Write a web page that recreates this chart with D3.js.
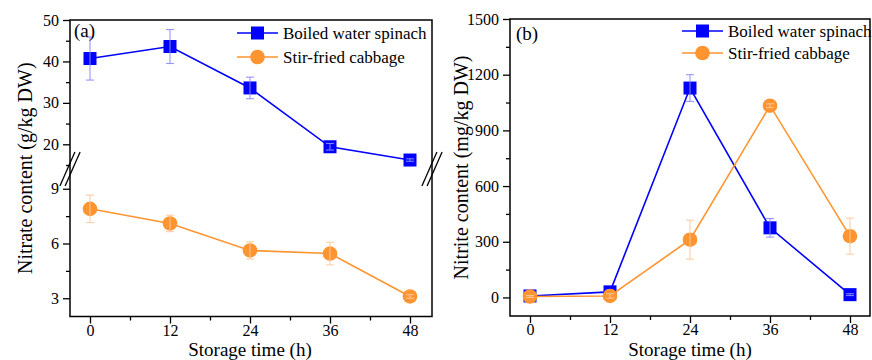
<!DOCTYPE html>
<html>
<head>
<meta charset="utf-8">
<script src="https://cdn.jsdelivr.net/npm/d3@7"></script>
<style>
  body { margin: 0; background: #fff; }
  svg, svg text { font-family: "Liberation Serif", "Times New Roman", serif; }
  svg { display: block; }
</style>
</head>
<body>
<div id="chart"></div>
<script>
// Data
const hours = [0, 12, 24, 36, 48];
const seriesNames = ["Boiled water spinach", "Stir-fried cabbage"];

const nitrateSpinach = [40.7, 43.6, 33.6, 19.4, 16.2];
const nitrateSpinachErr = [5.2, 4.1, 2.6, 0.8, 0.3];
const nitrateCabbage = [7.9, 7.1, 5.62, 5.45, 3.1];
const nitrateCabbageErr = [0.75, 0.45, 0.47, 0.62, 0.1];

const nitriteSpinach = [8, 30, 1128, 375, 15];
const nitriteSpinachErr = [18, 10, 72, 50, 5];
const nitriteCabbage = [5, 8, 311, 1033, 330];
const nitriteCabbageErr = [5, 12, 105, 10, 97];

const xTicks = [0, 12, 24, 36, 48];
const nitrateUpperTicks = [20, 30, 40, 50];
const nitrateLowerTicks = [3, 6, 9];
const nitriteTicks = [0, 300, 600, 900, 1200, 1500];

const width = 872;
const height = 360;
const blue = "#0000ff";
const orange = "#ff9430";
const blueErr = "#8c8cff";
const orangeErr = "#ffc89a";
const serif = "'Liberation Serif', 'Times New Roman', serif";

const svg = d3.select("#chart").append("svg")
  .attr("width", width)
  .attr("height", height);

svg.append("rect").attr("width", width).attr("height", height).attr("fill", "#fff");

function series(xs, ys, es) {
  return xs.map((x, i) => ({ x, y: ys[i], e: es[i] }));
}

function styleAxis(g, size) {
  g.attr("font-family", serif).attr("font-size", size);
  g.select(".domain").remove();
  g.selectAll(".tick line").attr("stroke", "#000").attr("stroke-width", 1.3);
  g.selectAll(".tick text").attr("fill", "#000");
}

function drawXAxis(g, x, bottom) {
  g.append("g")
    .attr("transform", `translate(0,${bottom})`)
    .call(d3.axisBottom(x).tickValues(xTicks).tickSize(7).tickPadding(1).tickFormat(d3.format("d")))
    .call(a => styleAxis(a, 16));
  g.append("g")
    .attr("transform", `translate(0,${bottom})`)
    .call(d3.axisBottom(x).tickValues([6, 18, 30, 42]).tickSize(4).tickFormat(""))
    .call(a => styleAxis(a, 16));
}

function drawYAxis(g, y, left, ticks, minor) {
  g.append("g")
    .attr("transform", `translate(${left},0)`)
    .call(d3.axisLeft(y).tickValues(ticks).tickSize(7).tickPadding(4).tickFormat(d3.format("d")))
    .call(a => styleAxis(a, 16));
  g.append("g")
    .attr("transform", `translate(${left},0)`)
    .call(d3.axisLeft(y).tickValues(minor).tickSize(4).tickFormat(""))
    .call(a => styleAxis(a, 16));
}

function drawSeries(g, x, y, data, color, errColor, shape) {
  const line = d3.line().x(d => x(d.x)).y(d => y(d.y));
  g.append("path")
    .datum(data)
    .attr("fill", "none")
    .attr("stroke", color)
    .attr("stroke-width", 1.6)
    .attr("d", line);

  if (shape === "square") {
    g.selectAll(null).data(data).join("rect")
      .attr("x", d => x(d.x) - 6.5)
      .attr("y", d => y(d.y) - 6.5)
      .attr("width", 13)
      .attr("height", 13)
      .attr("fill", color);
  } else {
    g.selectAll(null).data(data).join("circle")
      .attr("cx", d => x(d.x))
      .attr("cy", d => y(d.y))
      .attr("r", 7.3)
      .attr("fill", color);
  }

  const err = g.selectAll(null).data(data).join("g")
    .attr("stroke", errColor)
    .attr("stroke-width", 1.1)
    .attr("stroke-opacity", 0.9);
  err.append("line")
    .attr("x1", d => x(d.x)).attr("x2", d => x(d.x))
    .attr("y1", d => y(d.y + d.e)).attr("y2", d => y(d.y - d.e));
  err.append("line")
    .attr("x1", d => x(d.x) - 4).attr("x2", d => x(d.x) + 4)
    .attr("y1", d => y(d.y + d.e)).attr("y2", d => y(d.y + d.e));
  err.append("line")
    .attr("x1", d => x(d.x) - 4).attr("x2", d => x(d.x) + 4)
    .attr("y1", d => y(d.y - d.e)).attr("y2", d => y(d.y - d.e));
}

function drawLegend(g, lx, ly, gap) {
  const items = [
    { name: seriesNames[0], color: blue, shape: "square" },
    { name: seriesNames[1], color: orange, shape: "circle" }
  ];
  items.forEach((it, i) => {
    const yy = ly + i * gap;
    g.append("line")
      .attr("x1", lx).attr("x2", lx + 41)
      .attr("y1", yy).attr("y2", yy)
      .attr("stroke", it.color).attr("stroke-width", 1.6);
    if (it.shape === "square") {
      g.append("rect").attr("x", lx + 14).attr("y", yy - 6.5)
        .attr("width", 13).attr("height", 13).attr("fill", it.color);
    } else {
      g.append("circle").attr("cx", lx + 20.5).attr("cy", yy).attr("r", 7.3).attr("fill", it.color);
    }
    g.append("text")
      .attr("x", lx + 46).attr("y", yy + 5.5)
      .style("font-size", "17px")
      .attr("fill", "#000")
      .text(it.name);
  });
}

function breakMark(g, cx, cy) {
  [-2.6, 2.6].forEach(off => {
    g.append("line")
      .attr("x1", cx + off - 7.5).attr("y1", cy + 17)
      .attr("x2", cx + off + 7.5).attr("y2", cy - 17)
      .attr("stroke", "#000").attr("stroke-width", 1.3);
  });
}

// ---------- Panel (a): nitrate ----------
const a = { left: 70, right: 432, top: 20, bottom: 316.5 };
const gA = svg.append("g");

const xA = d3.scaleLinear().domain([-3, 51.3]).range([a.left, a.right]);
const yUpper = d3.scaleLinear().domain([15, 50]).range([165, a.top]);
const yLower = d3.scaleLinear().domain([2, 10]).range([a.bottom, 170.5]);

drawXAxis(gA, xA, a.bottom);
drawYAxis(gA, yUpper, a.left, nitrateUpperTicks, [15, 25, 35, 45]);
drawYAxis(gA, yLower, a.left, nitrateLowerTicks, [4.5, 7.5]);

gA.append("rect")
  .attr("x", a.left).attr("y", a.top)
  .attr("width", a.right - a.left).attr("height", a.bottom - a.top)
  .attr("fill", "none").attr("stroke", "#000").attr("stroke-width", 1.5);

breakMark(gA, a.left, 169);
breakMark(gA, a.right, 169);

drawSeries(gA, xA, yUpper, series(hours, nitrateSpinach, nitrateSpinachErr), blue, blueErr, "square");
drawSeries(gA, xA, yLower, series(hours, nitrateCabbage, nitrateCabbageErr), orange, orangeErr, "circle");

gA.append("text").attr("x", 74).attr("y", 37).style("font-size", "19px").text("(a)");
drawLegend(gA, 237, 33, 24);

gA.append("text")
  .attr("transform", `translate(32,${(a.top + a.bottom) / 2}) rotate(-90)`)
  .attr("text-anchor", "middle")
  .style("font-size", "20px")
  .text("Nitrate content (g/kg DW)");

gA.append("text")
  .attr("x", xA(24)).attr("y", 355.5)
  .attr("text-anchor", "middle")
  .style("font-size", "19px")
  .text("Storage time (h)");

// ---------- Panel (b): nitrite ----------
const b = { left: 510, right: 870, top: 19, bottom: 316 };
const gB = svg.append("g");

const xB = d3.scaleLinear().domain([-3, 51]).range([b.left, b.right]);
const yB = d3.scaleLinear().domain([-100, 1500]).range([b.bottom, b.top]);

drawXAxis(gB, xB, b.bottom);
drawYAxis(gB, yB, b.left, nitriteTicks, [150, 450, 750, 1050, 1350]);

gB.append("rect")
  .attr("x", b.left).attr("y", b.top)
  .attr("width", b.right - b.left).attr("height", b.bottom - b.top)
  .attr("fill", "none").attr("stroke", "#000").attr("stroke-width", 1.5);

drawSeries(gB, xB, yB, series(hours, nitriteSpinach, nitriteSpinachErr), blue, blueErr, "square");
drawSeries(gB, xB, yB, series(hours, nitriteCabbage, nitriteCabbageErr), orange, orangeErr, "circle");

gB.append("text").attr("x", 516).attr("y", 40).style("font-size", "19px").text("(b)");
drawLegend(gB, 682, 31, 22);

gB.append("text")
  .attr("transform", `translate(468,${(b.top + b.bottom) / 2}) rotate(-90)`)
  .attr("text-anchor", "middle")
  .style("font-size", "20px")
  .text("Nitrite content (mg/kg DW)");

gB.append("text")
  .attr("x", xB(24)).attr("y", 355.5)
  .attr("text-anchor", "middle")
  .style("font-size", "19px")
  .text("Storage time (h)");
</script>
</body>
</html>
